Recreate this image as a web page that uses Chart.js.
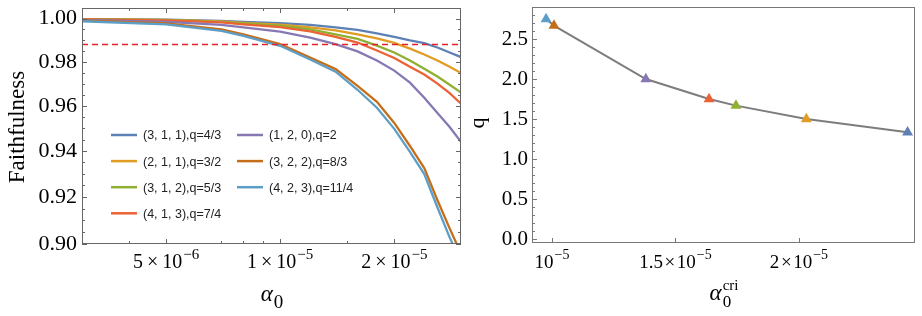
<!DOCTYPE html>
<html>
<head>
<meta charset="utf-8">
<script src="https://cdn.jsdelivr.net/npm/chart.js@4.4.1/dist/chart.umd.min.js"></script>
<style>
  html, body { margin: 0; padding: 0; background: #fff; }
  #wrap { position: relative; width: 922px; height: 316px; overflow: hidden; }
  #left { position: absolute; left: 0; top: 0; }
  #right { position: absolute; left: 466px; top: 0; }
</style>
</head>
<body>
<div id="wrap">
  <canvas id="left" width="466" height="316"></canvas>
  <canvas id="right" width="456" height="316"></canvas>
</div>
<script>
// ---- left panel: faithfulness vs alpha0 ----
var alpha0 = [3e-6, 5e-6, 7e-6, 8e-6, 1e-5, 1.2e-5, 1.4e-5, 1.6e-5, 1.8e-5, 2e-5, 2.2e-5, 2.4e-5, 2.6e-5, 2.8e-5, 3e-5];

var seriesLabels = ['(3, 1, 1),q=4/3', '(2, 1, 1),q=3/2', '(3, 1, 2),q=5/3', '(4, 1, 3),q=7/4',
                    '(1, 2, 0),q=2', '(3, 2, 2),q=8/3', '(4, 2, 3),q=11/4'];
var seriesColors = ['#5E81B5', '#E19C24', '#8FB032', '#EB6235', '#8778B3', '#C56E1A', '#5D9EC7'];

var f311 = [0.9998, 0.9995, 0.9990, 0.9985, 0.9979, 0.9971, 0.9959, 0.9948, 0.9931, 0.9915, 0.9899, 0.9886, 0.9866, 0.9843, 0.9822];
var f211 = [0.9998, 0.9994, 0.9987, 0.9980, 0.9972, 0.9959, 0.9945, 0.9927, 0.9908, 0.9887, 0.9861, 0.9834, 0.9806, 0.9778, 0.9749];
var f312 = [0.9998, 0.9993, 0.9985, 0.9978, 0.9967, 0.9950, 0.9927, 0.9906, 0.9875, 0.9843, 0.9806, 0.9769, 0.9733, 0.9696, 0.9660];
var f413 = [0.9997, 0.9992, 0.9983, 0.9973, 0.9961, 0.9941, 0.9915, 0.9889, 0.9852, 0.9818, 0.9778, 0.9742, 0.9701, 0.9658, 0.9610];
var f120 = [0.9994, 0.9985, 0.9971, 0.9959, 0.9940, 0.9912, 0.9882, 0.9848, 0.9806, 0.9760, 0.9705, 0.9637, 0.9569, 0.9506, 0.9440];
var f322 = [0.9992, 0.9978, 0.9950, 0.9927, 0.9882, 0.9820, 0.9767, 0.9691, 0.9619, 0.9524, 0.9422, 0.9325, 0.9186, 0.9066, 0.8960];
var f423 = [0.9988, 0.9973, 0.9943, 0.9920, 0.9874, 0.9811, 0.9755, 0.9673, 0.9592, 0.9498, 0.9396, 0.9299, 0.9155, 0.9028, 0.8922];
var faithSeries = [f311, f211, f312, f413, f120, f322, f423];

var threshold = 0.988;

var leftXTicks = [5e-6, 1e-5, 2e-5];
var leftXLabels = ['5\u2009×\u200910^−6', '1\u2009×\u200910^−5', '2\u2009×\u200910^−5'];
var leftXMinor = [4e-6, 7e-6, 8e-6, 9e-6, 1.5e-5];
var leftYTicks = [0.90, 0.92, 0.94, 0.96, 0.98, 1.00];
var leftYLabels = ['0.90', '0.92', '0.94', '0.96', '0.98', '1.00'];
var leftYMinor = [0.905, 0.91, 0.915, 0.925, 0.93, 0.935, 0.945, 0.95, 0.955, 0.965, 0.97, 0.975, 0.985, 0.99, 0.995];

// ---- right panel: q vs critical alpha0 ----
var alphaCri = [0.976e-5, 1.008e-5, 1.38e-5, 1.636e-5, 1.745e-5, 2.03e-5, 2.44e-5];
var qValues = [2.75, 2.667, 2.0, 1.75, 1.667, 1.5, 1.333];
var criColors = ['#5D9EC7', '#C56E1A', '#8778B3', '#EB6235', '#8FB032', '#E19C24', '#5E81B5'];

var rightXTicks = [1e-5, 1.5e-5, 2e-5];
var rightXLabels = ['10^−5', '1.5\u200a×\u200a10^−5', '2\u200a×\u200a10^−5'];
var rightYTicks = [0, 0.5, 1.0, 1.5, 2.0, 2.5];
var rightYLabels = ['0.0', '0.5', '1.0', '1.5', '2.0', '2.5'];
var rightYMinor = [0.1, 0.2, 0.3, 0.4, 0.6, 0.7, 0.8, 0.9, 1.1, 1.2, 1.3, 1.4, 1.6, 1.7, 1.8, 1.9, 2.1, 2.2, 2.3, 2.4, 2.6, 2.7, 2.8];

var serif = "'Liberation Serif', 'Times New Roman', serif";
var sans = "'Liberation Sans', Arial, sans-serif";

function pair(xs, ys) {
    return xs.map(function (x, i) { return { x: x, y: ys[i] }; });
}

function setTicks(list) {
    return function (scale) {
        scale.ticks = list.map(function (v) { return { value: v }; });
    };
}

// frame round the plot area with inward Mathematica-like ticks
var frameTicks = {
    id: 'frameTicks',
    afterDraw: function (chart, args, o) {
        var ctx = chart.ctx, a = chart.chartArea;
        var xs = chart.scales.x, ys = chart.scales.y;
        ctx.save();
        ctx.strokeStyle = o.color;
        ctx.lineWidth = 1;
        ctx.strokeRect(a.left + 0.5, a.top + 0.5, a.right - a.left - 1, a.bottom - a.top - 1);
        ctx.beginPath();
        function xMark(v, len) {
            var p = Math.round(xs.getPixelForValue(v)) + 0.5;
            ctx.moveTo(p, a.bottom); ctx.lineTo(p, a.bottom - len);
            if (o.mirror) { ctx.moveTo(p, a.top); ctx.lineTo(p, a.top + len); }
        }
        function yMark(v, len) {
            var p = Math.round(ys.getPixelForValue(v)) + 0.5;
            ctx.moveTo(a.left, p); ctx.lineTo(a.left + len, p);
            if (o.mirror) { ctx.moveTo(a.right, p); ctx.lineTo(a.right - len, p); }
        }
        o.xMajor.forEach(function (v) { xMark(v, 5); });
        o.xMinor.forEach(function (v) { xMark(v, 3); });
        o.yMajor.forEach(function (v) { yMark(v, 5); });
        o.yMinor.forEach(function (v) { yMark(v, 3); });
        ctx.stroke();

        // x tick labels of the form  a×10^b, exponent raised
        ctx.fillStyle = '#000';
        ctx.textBaseline = 'alphabetic';
        ctx.textAlign = 'left';
        o.xMajor.forEach(function (v, i) {
            var parts = o.xLabels[i].split('^');
            ctx.font = o.baseSize + 'px ' + serif;
            var wb = ctx.measureText(parts[0]).width;
            ctx.font = o.expSize + 'px ' + serif;
            var we = ctx.measureText(parts[1]).width;
            var x0 = xs.getPixelForValue(v) - (wb + we + 1) / 2;
            ctx.font = o.baseSize + 'px ' + serif;
            ctx.fillText(parts[0], x0, o.baseY);
            ctx.font = o.expSize + 'px ' + serif;
            ctx.fillText(parts[1], x0 + wb + 1, o.baseY - o.rise);
        });
        ctx.restore();
    }
};

// alpha with subscript 0 and optional superscript
function drawAlpha(ctx, cx, base, sup) {
    ctx.save();
    ctx.fillStyle = '#000';
    ctx.textBaseline = 'alphabetic';
    ctx.textAlign = 'left';
    ctx.font = 'italic 23px ' + serif;
    var wa = ctx.measureText('α').width;
    ctx.font = (sup ? 17 : 19) + 'px ' + serif;
    var ws = ctx.measureText('0').width;
    var wp = 0;
    if (sup) {
        ctx.font = '15px ' + serif;
        wp = ctx.measureText(sup).width;
    }
    var x0 = cx - (wa + 1 + Math.max(ws, wp)) / 2;
    ctx.font = 'italic 23px ' + serif;
    ctx.fillText('α', x0, base);
    ctx.font = (sup ? 17 : 19) + 'px ' + serif;
    ctx.fillText('0', x0 + wa + 1, base + 6.5);
    if (sup) {
        ctx.font = '15px ' + serif;
        ctx.fillText(sup, x0 + wa + 1, base - 10);
    }
    ctx.restore();
}

function drawVertical(ctx, text, x, y, size) {
    ctx.save();
    ctx.translate(x, y);
    ctx.rotate(-Math.PI / 2);
    ctx.fillStyle = '#000';
    ctx.font = size + 'px ' + serif;
    ctx.textAlign = 'center';
    ctx.textBaseline = 'middle';
    ctx.fillText(text, 0, 0);
    ctx.restore();
}

var leftDecor = {
    id: 'leftDecor',
    afterDraw: function (chart) {
        var ctx = chart.ctx;
        drawVertical(ctx, 'Faithfulness', 18, 127, 23);
        drawAlpha(ctx, 272, 301, null);
        // legend, two columns inside the plot
        var cols = [[0, 1, 2, 3], [4, 5, 6]];
        var colX = [111, 237];
        ctx.save();
        ctx.font = '12.5px ' + sans;
        ctx.textBaseline = 'middle';
        ctx.fillStyle = '#222';
        cols.forEach(function (col, c) {
            col.forEach(function (idx, r) {
                var ds = chart.data.datasets[idx];
                var y = 135 + r * 26.1;
                ctx.strokeStyle = ds.borderColor;
                ctx.lineWidth = 2.5;
                ctx.beginPath();
                ctx.moveTo(colX[c], y);
                ctx.lineTo(colX[c] + 26, y);
                ctx.stroke();
                ctx.fillText(ds.label, colX[c] + 32, y + 1);
            });
        });
        ctx.restore();
    }
};

var rightDecor = {
    id: 'rightDecor',
    afterDraw: function (chart) {
        var ctx = chart.ctx;
        drawVertical(ctx, 'q', 12, 123, 22);
        drawAlpha(ctx, 258, 300, 'cri');
    }
};

function FaithfulnessChart() {
    var datasets = faithSeries.map(function (vals, i) {
        return {
            label: seriesLabels[i],
            data: pair(alpha0, vals),
            borderColor: seriesColors[i],
            borderWidth: 2.3,
            pointRadius: 0,
            tension: 0,
            fill: false,
            order: 10 - i
        };
    });
    datasets.push({
        label: 'threshold',
        data: [{ x: alpha0[0], y: threshold }, { x: alpha0[alpha0.length - 1], y: threshold }],
        borderColor: '#E4222A',
        borderWidth: 1.3,
        borderDash: [6, 4],
        pointRadius: 0,
        order: -1
    });

    new Chart(document.getElementById('left'), {
        type: 'line',
        data: { datasets: datasets },
        plugins: [frameTicks, leftDecor],
        options: {
            responsive: false,
            animation: false,
            layout: { padding: { left: 0, top: 8, right: 5, bottom: 0 } },
            plugins: {
                legend: { display: false },
                tooltip: { enabled: false },
                frameTicks: {
                    color: '#666', mirror: true, xMajor: leftXTicks, xMinor: leftXMinor, yMajor: leftYTicks, yMinor: leftYMinor,
                    xLabels: leftXLabels, baseSize: 20, expSize: 15, baseY: 268, rise: 9
                }
            },
            scales: {
                x: {
                    type: 'logarithmic', min: 3e-6, max: 3e-5, bounds: 'data',
                    afterBuildTicks: setTicks(leftXTicks),
                    afterFit: function (s) { s.height = 72; s.paddingLeft = 0; s.paddingRight = 0; },
                    grid: { display: false, drawTicks: false },
                    border: { display: false },
                    ticks: { display: false }
                },
                y: {
                    type: 'logarithmic', min: 0.9, max: 1.005, bounds: 'data',
                    afterBuildTicks: setTicks(leftYTicks),
                    afterFit: function (s) { s.width = 82; s.paddingTop = 0; s.paddingBottom = 0; },
                    grid: { display: false, drawTicks: false },
                    border: { display: false },
                    ticks: {
                        autoSkip: false, padding: 5, color: '#000',
                        font: { family: serif, size: 22 },
                        callback: function (v, i) { return leftYLabels[i]; }
                    }
                }
            }
        }
    });
}

function CriticalChart() {
    new Chart(document.getElementById('right'), {
        type: 'line',
        data: {
            datasets: [{
                label: 'q',
                data: pair(alphaCri, qValues),
                borderColor: '#7d7d7d',
                borderWidth: 2,
                tension: 0,
                pointStyle: 'triangle',
                pointRadius: 6.3,
                pointBorderWidth: 0,
                pointBackgroundColor: criColors,
                pointBorderColor: criColors
            }]
        },
        plugins: [frameTicks, rightDecor],
        options: {
            responsive: false,
            animation: false,
            layout: { padding: { left: 0, top: 7, right: 7, bottom: 0 } },
            plugins: {
                legend: { display: false },
                tooltip: { enabled: false },
                frameTicks: {
                    color: '#777', mirror: false, xMajor: rightXTicks, xMinor: [], yMajor: rightYTicks, yMinor: rightYMinor,
                    xLabels: rightXLabels, baseSize: 19, expSize: 14, baseY: 268, rise: 9
                }
            },
            scales: {
                x: {
                    type: 'linear', min: 0.919e-5, max: 2.47e-5, bounds: 'data',
                    afterBuildTicks: setTicks(rightXTicks),
                    afterFit: function (s) { s.height = 73; s.paddingLeft = 0; s.paddingRight = 0; },
                    grid: { display: false, drawTicks: false },
                    border: { display: false },
                    ticks: { display: false }
                },
                y: {
                    type: 'linear', min: -0.05, max: 2.9, bounds: 'data',
                    afterBuildTicks: setTicks(rightYTicks),
                    afterFit: function (s) { s.width = 66; s.paddingTop = 0; s.paddingBottom = 0; },
                    grid: { display: false, drawTicks: false },
                    border: { display: false },
                    ticks: {
                        autoSkip: false, padding: 4, color: '#000',
                        font: { family: serif, size: 21 },
                        callback: function (v, i) { return rightYLabels[i]; }
                    }
                }
            }
        }
    });
}

FaithfulnessChart();
CriticalChart();
</script>
</body>
</html>
